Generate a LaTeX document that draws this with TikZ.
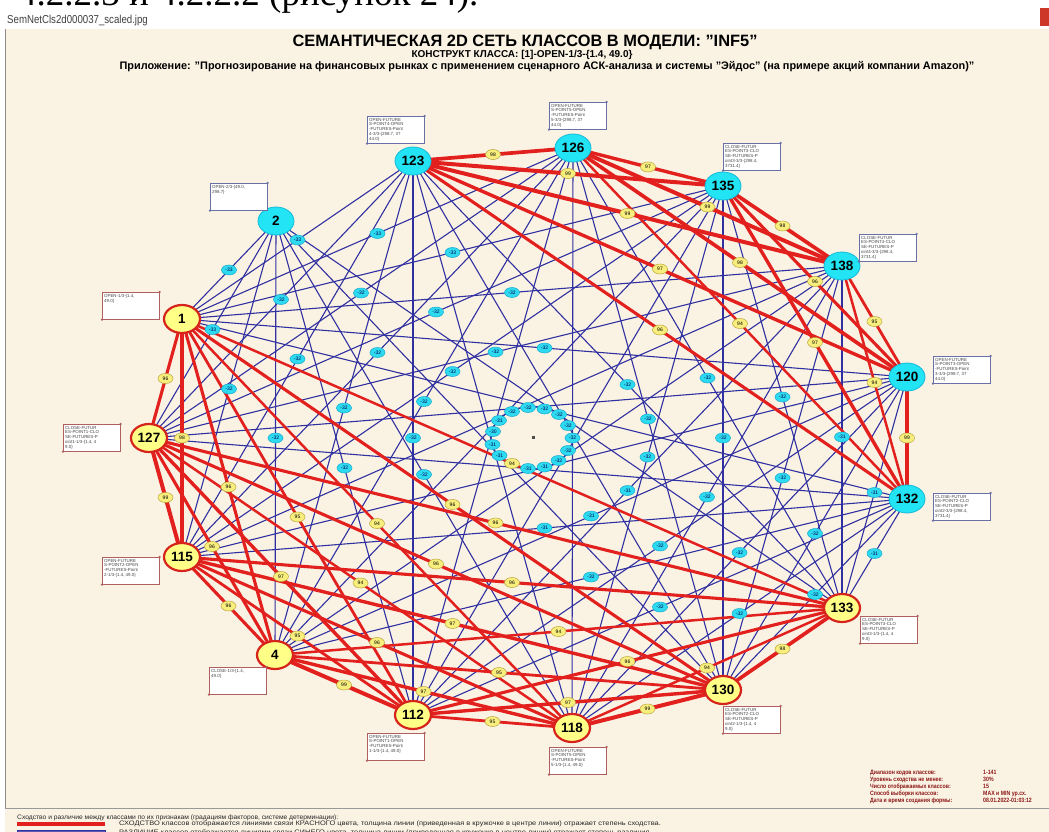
\documentclass[tikz,border=0pt]{standalone}
\usepackage{fontspec}
\setmainfont{Liberation Sans}
\newfontfamily\serifdoc{Liberation Serif}
\newfontfamily\narrowf[FakeStretch=0.84]{Liberation Sans}
\newfontfamily\legf[FakeStretch=1.03]{Liberation Sans}
\newfontfamily\widef[FakeStretch=1.15]{Liberation Sans}
\usetikzlibrary{shapes.geometric,calc}

\definecolor{panel}{RGB}{250,243,228}
\definecolor{simred}{RGB}{226,32,30}
\definecolor{difblue}{RGB}{48,48,160}
\definecolor{cyanfill}{RGB}{34,228,245}
\definecolor{cyanedge}{RGB}{20,185,215}
\definecolor{yelfill}{RGB}{255,255,135}
\definecolor{yeledge}{RGB}{214,36,28}
\definecolor{lblyel}{RGB}{248,238,125}
\definecolor{lblyeledge}{RGB}{185,165,60}
\definecolor{lblcyan}{RGB}{45,218,240}
\definecolor{lblcyanedge}{RGB}{25,170,205}
\definecolor{boxred}{RGB}{175,95,95}
\definecolor{boxblue}{RGB}{105,112,165}
\definecolor{boxtxt}{RGB}{70,70,70}
\definecolor{infored}{RGB}{140,22,22}
\definecolor{closered}{RGB}{205,55,40}

\pgfdeclarelayer{back}
\pgfdeclarelayer{blueedges}
\pgfdeclarelayer{rededges}
\pgfsetlayers{back,blueedges,rededges,main}

\tikzset{
  bignode/.style={ellipse, minimum width=36pt, minimum height=28pt, inner sep=0pt,
    font=\bfseries\fontsize{13.5}{13.5}\selectfont},
  ynode/.style={bignode, fill=yelfill, draw=yeledge, line width=2.2pt},
  cnode/.style={bignode, fill=cyanfill, draw=cyanedge, line width=0.8pt},
  redline/.style={draw=simred},
  blueline/.style={draw=difblue, line width=1.1pt},
  ylbl/.style={ellipse, minimum width=15pt, minimum height=10pt, inner sep=0pt,
    fill=lblyel, draw=lblyeledge, line width=0.5pt, font=\fontsize{5}{5}\selectfont},
  clbl/.style={ellipse, minimum width=15pt, minimum height=10pt, inner sep=0pt,
    fill=lblcyan, draw=lblcyanedge, line width=0.5pt, text=black!70!blue,
    font=\fontsize{5}{5}\selectfont},
  ibox/.style={draw, fill=white, minimum width=57pt, minimum height=27pt, inner sep=0pt,
    line width=0.6pt, anchor=north west},
  ybox/.style={ibox, draw=boxred},
  cbox/.style={ibox, draw=boxblue},
  boxtext/.style={font=\fontsize{4.4}{4.9}\selectfont, text=boxtxt, align=left,
    inner xsep=2pt, inner ysep=1.8pt, anchor=north west},
  infotext/.style={font=\narrowf\bfseries\fontsize{6.2}{6}\selectfont, text=infored,
    anchor=base west, inner sep=0pt},
  legtext/.style={text=black!85, anchor=base west, inner sep=0pt}
}

% annotation box of a class: style, name, top-left corner, text, corner-dot colour
\newcommand\classtag[5]{%
  \node[#1] (#2) at (#3) {};
  \node[boxtext] at (#2.north west) {#4};
  \fill[#5] (#2.south west) circle (1.3pt) (#2.north east) circle (1.3pt);
}

\begin{document}
\begin{tikzpicture}[x=1pt,y=-1pt]
\useasboundingbox (0,0) rectangle (1049,832);
\clip (0,0) rectangle (1049,832);

\begin{pgfonlayer}{back}
  \fill[white] (0,0) rectangle (1049,832);
  \fill[panel] (5,29) rectangle (1049,832);
  \draw[black!45, line width=0.8pt] (5.5,29) -- (5.5,808);
  \draw[black!40, line width=0.8pt] (5,808.5) -- (1049,808.5);
\end{pgfonlayer}

% page heading above the figure and the file caption
\node[anchor=base west, inner sep=0pt, font=\serifdoc\fontsize{37}{37}\selectfont] (pagehead) at (18,6) {4.2.2.3 и 4.2.2.2 (рисунок 24).};
\node[anchor=base west, inner sep=0pt, font=\narrowf\fontsize{11.5}{11}\selectfont, text=black!75] (fname) at (7,24) {SemNetCls2d000037\_scaled.jpg};
\fill[closered] (1040,8) rectangle (1049,26);

% titles
\node[anchor=base, inner sep=0pt, font=\bfseries\fontsize{16.4}{16}\selectfont] (title) at (525,47) {СЕМАНТИЧЕСКАЯ 2D СЕТЬ КЛАССОВ В МОДЕЛИ: "INF5"};
\node[anchor=base, inner sep=0pt, font=\bfseries\fontsize{10}{10}\selectfont] (subtitle) at (522,58) {КОНСТРУКТ КЛАССА: [1]-OPEN-1/3-\{1.4, 49.0\}};
\node[anchor=base, inner sep=0pt, font=\bfseries\fontsize{10.9}{10}\selectfont] (appline) at (547,70) {Приложение: "Прогнозирование на финансовых рынках с применением сценарного АСК-анализа и системы "Эйдос" (на примере акций компании Amazon)"};

% classes
\node[ynode] (n1)   at (182,319) {1};
\node[cnode] (n2)   at (276,221) {2};
\node[cnode] (n123) at (413,161) {123};
\node[cnode] (n126) at (573,148) {126};
\node[cnode] (n135) at (723,186) {135};
\node[cnode] (n138) at (842,266) {138};
\node[cnode] (n120) at (907,377) {120};
\node[cnode] (n132) at (907,499) {132};
\node[ynode] (n133) at (842,608) {133};
\node[ynode] (n130) at (723,690) {130};
\node[ynode] (n118) at (572,728) {118};
\node[ynode] (n112) at (413,715) {112};
\node[ynode] (n4)   at (275,655) {4};
\node[ynode] (n115) at (182,557) {115};
\node[ynode] (n127) at (149,438) {127};

\fill[black!70] (531.5,435.5) rectangle (534.5,438.5);

% differences (blue)
\foreach \a/\b/\v in {
  1/2/-33, 1/123/-33, 1/126/-33, 1/135/-33, 1/138/-32, 1/120/-32, 1/132/-32,
  127/2/-33, 127/123/-32, 127/126/-32, 127/135/-32, 127/138/-32, 127/120/-32, 127/132/-31,
  115/2/-32, 115/123/-32, 115/126/-32, 115/135/-32, 115/138/-32, 115/120/-31, 115/132/-31,
  4/2/-32, 4/123/-32, 4/126/-32, 4/135/-31, 4/138/-32, 4/120/-31, 4/132/-32,
  112/2/-32, 112/123/-32, 112/126/-30, 112/135/-32, 112/138/-31, 112/120/-32, 112/132/-32,
  118/2/-32, 118/123/-31, 118/126/-32, 118/135/-32, 118/138/-32, 118/120/-32, 118/132/-32,
  130/2/-31, 130/123/-32, 130/126/-32, 130/135/-32, 130/138/-32, 130/120/-32, 130/132/-32,
  133/2/-32, 133/123/-32, 133/126/-32, 133/135/-32, 133/138/-31, 133/120/-31, 133/132/-31} {
  \begin{pgfonlayer}{blueedges}
    \draw[blueline] (n\a.center) -- (n\b.center);
  \end{pgfonlayer}
  \node[clbl] at ($(n\a.center)!0.5!(n\b.center)$) {\v};
}

% similarities (red), width grows with the level
\foreach \a/\b/\v in {
  1/127/96, 1/115/98, 1/4/96, 1/112/95, 1/118/94, 1/130/96, 1/133/94,
  127/115/99, 127/4/96, 127/112/97, 127/118/94, 127/130/96, 127/133/96,
  115/4/96, 115/112/95, 115/118/96, 115/130/97, 115/133/96,
  4/112/99, 4/118/97, 4/130/95, 4/133/94,
  112/118/95, 112/130/97, 112/133/96,
  118/130/99, 118/133/94,
  130/133/98,
  123/126/98, 123/135/99, 123/138/99, 123/120/97, 123/132/96,
  126/135/97, 126/138/99, 126/120/98, 126/132/94,
  135/138/98, 135/120/96, 135/132/97,
  138/120/95, 138/132/94,
  120/132/99} {
  \begin{pgfonlayer}{rededges}
    \pgfmathsetmacro\lw{2.5+(\v-94)*0.3}
    \draw[redline, line width=\lw pt] (n\a.center) -- (n\b.center);
  \end{pgfonlayer}
  \node[ylbl] at ($(n\a.center)!0.5!(n\b.center)$) {\v};
}

% class annotation boxes
\classtag{ybox}{b1}{102,292}{OPEN-1/3-\{1.4,\\49.0\}}{boxred}
\classtag{cbox}{b2}{210,183}{OPEN-2/3-\{49.0,\\ 298.7\}}{boxblue}
\classtag{cbox}{b123}{367,116}{OPEN-FUTURE\\S-POINT4-OPEN\\-FUTURES-Point\\4-3/3-\{298.7, 37\\44.0\}}{boxblue}
\classtag{cbox}{b126}{549,102}{OPEN-FUTURE\\S-POINT5-OPEN\\-FUTURES-Point\\5-3/3-\{298.7, 37\\44.0\}}{boxblue}
\classtag{cbox}{b135}{723,143}{CLOSE-FUTUR\\ES-POINT3-CLO\\SE-FUTURES-P\\oint3-3/3-\{298.4,\\ 3731.4\}}{boxblue}
\classtag{cbox}{b138}{859,234}{CLOSE-FUTUR\\ES-POINT4-CLO\\SE-FUTURES-P\\oint4-3/3-\{298.4,\\ 3731.4\}}{boxblue}
\classtag{cbox}{b120}{933,356}{OPEN-FUTURE\\S-POINT3-OPEN\\-FUTURES-Point\\3-3/3-\{298.7, 37\\44.0\}}{boxblue}
\classtag{cbox}{b132}{933,493}{CLOSE-FUTUR\\ES-POINT2-CLO\\SE-FUTURES-P\\oint2-3/3-\{298.4,\\ 3731.4\}}{boxblue}
\classtag{ybox}{b133}{860,616}{CLOSE-FUTUR\\ES-POINT3-CLO\\SE-FUTURES-P\\oint3-1/3-\{1.4, 4\\9.0\}}{boxred}
\classtag{ybox}{b130}{723,706}{CLOSE-FUTUR\\ES-POINT2-CLO\\SE-FUTURES-P\\oint2-1/3-\{1.4, 4\\9.0\}}{boxred}
\classtag{ybox}{b118}{549,747}{OPEN-FUTURE\\S-POINT5-OPEN\\-FUTURES-Point\\5-1/3-\{1.4, 49.0\}}{boxred}
\classtag{ybox}{b112}{367,733}{OPEN-FUTURE\\S-POINT1-OPEN\\-FUTURES-Point\\1-1/3-\{1.4, 49.0\}}{boxred}
\classtag{ybox}{b4}{209,667}{CLOSE-1/3-\{1.4,\\ 49.0\}}{boxred}
\classtag{ybox}{b115}{102,557}{OPEN-FUTURE\\S-POINT2-OPEN\\-FUTURES-Point\\2-1/3-\{1.4, 49.0\}}{boxred}
\classtag{ybox}{b127}{63,424}{CLOSE-FUTUR\\ES-POINT1-CLO\\SE-FUTURES-P\\oint1-1/3-\{1.4, 4\\9.0\}}{boxred}

% form parameters
\node[infotext] (i1) at (870,774.5) {Диапазон кодов классов:};
\node[infotext] (i2) at (870,781.5) {Уровень сходства не менее:};
\node[infotext] (i3) at (870,788.5) {Число отображаемых классов:};
\node[infotext] (i4) at (870,795.5) {Способ выборки классов:};
\node[infotext] (i5) at (870,802.5) {Дата и время создания формы:};
\node[infotext] (v1) at (983,774.5) {1-141};
\node[infotext] (v2) at (983,781.5) {30\%};
\node[infotext] (v3) at (983,788.5) {15};
\node[infotext] (v4) at (983,795.5) {MAX и MIN ур.сх.};
\node[infotext] (v5) at (983,802.5) {08.01.2022-01:03:12};

% legend
\node[legtext, font=\legf\fontsize{6.5}{6}\selectfont] (leg0) at (17,819) {Сходство и различие между классами по их признакам (градациям факторов, системе детерминации):};
\fill[simred] (17,822.3) rectangle (105,825.7);
\node[legtext, font=\widef\fontsize{6.5}{6}\selectfont] (leg1) at (119,825.5) {СХОДСТВО классов отображается линиями связи КРАСНОГО цвета, толщина линии (приведенная в кружочке в центре линии) отражает степень сходства.};
\filldraw[fill=difblue!80!white, draw=difblue] (17,830.5) rectangle (105,834);
\node[legtext, font=\widef\fontsize{6.5}{6}\selectfont] (leg2) at (119,834.3) {РАЗЛИЧИЕ классов отображается линиями связи СИНЕГО цвета, толщина линии (приведенная в кружочке в центре линии) отражает степень различия.};
\end{tikzpicture}
\end{document}
